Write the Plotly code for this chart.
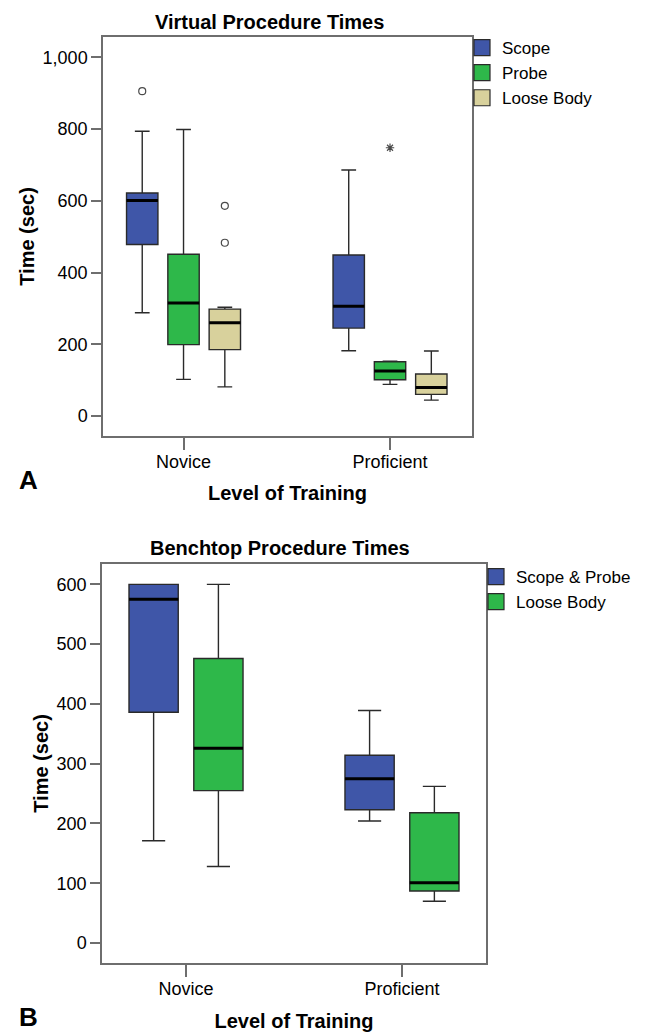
import plotly.graph_objects as go

# ---------------- data ----------------
categories = ["Novice", "Proficient"]

# Panel A: Virtual Procedure Times (sec)
virt_scope_q1 = [478, 245]
virt_scope_median = [601, 306]
virt_scope_q3 = [622, 449]
virt_scope_low = [288, 182]
virt_scope_high = [794, 686]
virt_scope_outliers = [[906], []]

virt_probe_q1 = [199, 101]
virt_probe_median = [315, 125]
virt_probe_q3 = [451, 151]
virt_probe_low = [102, 88]
virt_probe_high = [799, 153]
virt_probe_outliers = [[], [748]]

virt_lb_q1 = [185, 60]
virt_lb_median = [260, 79]
virt_lb_q3 = [298, 117]
virt_lb_low = [81, 44]
virt_lb_high = [303, 181]
virt_lb_outliers = [[586, 483], []]

# Panel B: Benchtop Procedure Times (sec)
bench_sp_q1 = [386, 223]
bench_sp_median = [575, 275]
bench_sp_q3 = [600, 314]
bench_sp_low = [171, 204]
bench_sp_high = [600, 389]

bench_lb_q1 = [255, 87]
bench_lb_median = [326, 101]
bench_lb_q3 = [476, 218]
bench_lb_low = [128, 70]
bench_lb_high = [600, 262]

y_ticks_a = [0, 200, 400, 600, 800, 1000]
y_ticks_b = [0, 100, 200, 300, 400, 500, 600]

# ---------------- style ----------------
BLUE = "#3F56A8"
GREEN = "#2EB84A"
TAN = "#D8D19C"
EDGE = "#2A2A2A"
FRAME = "#6E6E6E"
FONT = "Liberation Sans, Arial, sans-serif"
OFF = 8                      # page body margin
W, H = 648 - OFF, 1032 - OFF


def px(x):
    return (x - OFF) / W


def py(y):
    return 1 - (y - OFF) / H


fig = go.Figure()


def add_series(name, color, q1, med, q3, lo, hi, pts, xa, ya, group, legend, symbol="circle-open"):
    kw = dict(x=categories, q1=q1, median=med, q3=q3, lowerfence=lo, upperfence=hi)
    box = go.Box(
        name=name, fillcolor=color,
        line=dict(color=EDGE, width=1.4),
        whiskerwidth=0.47,
        offsetgroup=name, alignmentgroup=group,
        xaxis=xa, yaxis=ya, showlegend=False,
        **kw,
    )
    if pts is not None:
        samples = [p if len(p) else [None] for p in pts]
        box.update(y=samples, boxpoints="outliers", jitter=0, pointpos=0,
                   marker=dict(symbol=symbol, size=7, color="#4A4A4A",
                               line=dict(width=1.2, color="#4A4A4A")))
    else:
        box.update(boxpoints=False)
    fig.add_trace(box)
    # thick median line
    fig.add_trace(go.Box(
        name=name + " median", x=categories, q1=med, median=med, q3=med,
        lowerfence=med, upperfence=med, fillcolor="rgba(0,0,0,0)",
        line=dict(color="black", width=3), whiskerwidth=0, boxpoints=False,
        offsetgroup=name, alignmentgroup=group, xaxis=xa, yaxis=ya,
        showlegend=False, hoverinfo="skip",
    ))
    # legend swatch
    fig.add_trace(go.Scatter(
        x=[None], y=[None], mode="markers", name=name.strip(),
        marker=dict(symbol="square", size=16, color=color, line=dict(color=EDGE, width=1.2)),
        xaxis=xa, yaxis=ya, legend=legend, showlegend=True,
    ))


add_series("Scope", BLUE, virt_scope_q1, virt_scope_median, virt_scope_q3,
           virt_scope_low, virt_scope_high, virt_scope_outliers, "x", "y", "A", "legend")
add_series("Probe", GREEN, virt_probe_q1, virt_probe_median, virt_probe_q3,
           virt_probe_low, virt_probe_high, virt_probe_outliers, "x", "y", "A", "legend",
           symbol="asterisk-open")
add_series("Loose Body", TAN, virt_lb_q1, virt_lb_median, virt_lb_q3,
           virt_lb_low, virt_lb_high, virt_lb_outliers, "x", "y", "A", "legend")

add_series("Scope & Probe", BLUE, bench_sp_q1, bench_sp_median, bench_sp_q3,
           bench_sp_low, bench_sp_high, None, "x2", "y2", "B", "legend2")
add_series("Loose Body ", GREEN, bench_lb_q1, bench_lb_median, bench_lb_q3,
           bench_lb_low, bench_lb_high, None, "x2", "y2", "B", "legend2")

axis_common = dict(showline=True, linecolor=FRAME, linewidth=1.5, mirror=True,
                   ticks="outside", tickcolor=FRAME, tickwidth=1.5,
                   showgrid=False, zeroline=False, automargin=False,
                   tickfont=dict(family=FONT, size=18, color="black"))

title_font = dict(family=FONT, size=20, color="black", weight="bold")
legend_font = dict(family=FONT, size=17, color="black")

fig.update_layout(
    width=W, height=H,
    margin=dict(l=0, r=0, t=0, b=0),
    paper_bgcolor="white", plot_bgcolor="white",
    boxmode="group", boxgap=0.4, boxgroupgap=0.24,
    font=dict(family=FONT, color="black"),
    xaxis=dict(domain=[px(103), px(472)], anchor="y", type="category",
               range=[-0.39, 1.397], ticklen=12, ticklabelstandoff=-3,
               title=dict(text="Level of Training", font=title_font, standoff=15),
               **axis_common),
    yaxis=dict(domain=[py(436), py(37)], anchor="x",
               range=[-56, 1057], tickvals=y_ticks_a, tickformat=",", ticklen=10,
               title=dict(text="Time (sec)", font=title_font, standoff=3),
               **axis_common),
    xaxis2=dict(domain=[px(102), px(486)], anchor="y2", type="category",
                range=[-0.389, 1.389], ticklen=12, ticklabelstandoff=-3,
                title=dict(text="Level of Training", font=title_font, standoff=19),
                **axis_common),
    yaxis2=dict(domain=[py(963), py(564)], anchor="x2",
                range=[-33.4, 634], tickvals=y_ticks_b, ticklen=10,
                title=dict(text="Time (sec)", font=title_font, standoff=3),
                **axis_common),
    legend=dict(x=px(462), y=py(30), xanchor="left", yanchor="top",
                font=legend_font, tracegroupgap=0, bgcolor="rgba(0,0,0,0)",
                itemclick=False),
    legend2=dict(x=px(476), y=py(559), xanchor="left", yanchor="top",
                 font=legend_font, tracegroupgap=0, bgcolor="rgba(0,0,0,0)",
                 itemclick=False),
    annotations=[
        dict(text="Virtual Procedure Times", x=px(269), y=py(22), xref="paper", yref="paper",
             showarrow=False, xanchor="center", yanchor="middle", font=title_font),
        dict(text="Benchtop Procedure Times", x=px(280), y=py(548), xref="paper", yref="paper",
             showarrow=False, xanchor="center", yanchor="middle", font=title_font),
        dict(text="A", x=px(28), y=py(480), xref="paper", yref="paper", showarrow=False,
             xanchor="center", yanchor="middle",
             font=dict(family=FONT, size=26, color="black", weight="bold")),
        dict(text="B", x=px(28), y=py(1017), xref="paper", yref="paper", showarrow=False,
             xanchor="center", yanchor="middle",
             font=dict(family=FONT, size=26, color="black", weight="bold")),
    ],
)

fig.write_html("out.html")
